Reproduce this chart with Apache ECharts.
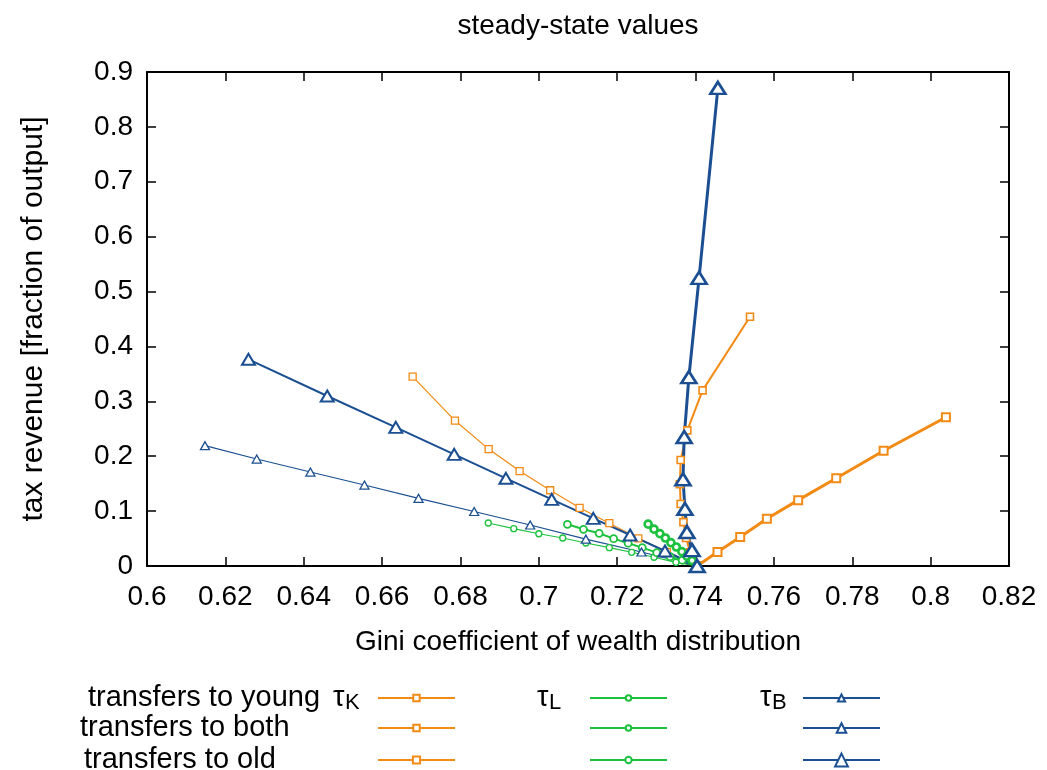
<!DOCTYPE html>
<html>
<head>
<meta charset="utf-8">
<script src="https://cdn.jsdelivr.net/npm/echarts@6/dist/echarts.min.js"></script>
<style>
  html, body { margin: 0; padding: 0; background: #fff; }
  #chart { width: 1047px; height: 770px; }
</style>
</head>
<body>
<div id="chart"></div>
<script>
// Steady-state tax revenue vs. wealth Gini for three tax instruments
// (capital tax tauK, labour tax tauL, bequest tax tauB) under three transfer schemes.
// Each point is [Gini coefficient, tax revenue as fraction of output].

const xTicks = { min: 0.6, max: 0.82, step: 0.02 };
const yTicks = { min: 0, max: 0.9, step: 0.1 };

const tauK_young = [[0.6678,0.345],[0.6786,0.265],[0.6872,0.213],[0.6951,0.173],[0.7029,0.138],[0.7104,0.106],[0.7180,0.078],[0.7254,0.0505],[0.7327,0.0255],[0.7404,0]];
const tauK_both  = [[0.7539,0.454],[0.7418,0.320],[0.7379,0.247],[0.7362,0.193],[0.7360,0.149],[0.7362,0.113],[0.7369,0.080],[0.7376,0.051],[0.7386,0.025],[0.7404,0]];
const tauK_old   = [[0.7404,0],[0.7456,0.0255],[0.7514,0.053],[0.7582,0.086],[0.7662,0.120],[0.7759,0.160],[0.7880,0.210],[0.8039,0.271]];

const tauL_young = [[0.6871,0.0783],[0.6936,0.068],[0.7000,0.0588],[0.7061,0.051],[0.7120,0.0419],[0.7180,0.0334],[0.7237,0.025],[0.7294,0.0159],[0.7350,0.0067],[0.7404,0]];
const tauL_both  = [[0.7073,0.076],[0.7114,0.0669],[0.7154,0.0596],[0.7191,0.0498],[0.7228,0.0415],[0.7264,0.0334],[0.7301,0.0243],[0.7335,0.017],[0.7366,0.0105],[0.7404,0]];
const tauL_old   = [[0.7279,0.0762],[0.7294,0.0671],[0.7309,0.0589],[0.7323,0.051],[0.7337,0.0425],[0.7351,0.0346],[0.7365,0.0262],[0.7378,0.0179],[0.7391,0.010],[0.7404,0]];

const tauB_young = [[0.6148,0.2192],[0.6280,0.1949],[0.6417,0.1712],[0.6555,0.1475],[0.6693,0.1233],[0.6835,0.0993],[0.6978,0.0747],[0.7120,0.049],[0.7262,0.0255],[0.7404,0]];
const tauB_both  = [[0.6259,0.3766],[0.6460,0.3097],[0.6635,0.2526],[0.6784,0.2035],[0.6916,0.1598],[0.7033,0.1215],[0.7139,0.0869],[0.7233,0.0565],[0.7322,0.0273],[0.7404,0]];
const tauB_old   = [[0.7404,0],[0.7391,0.029],[0.7378,0.062],[0.7373,0.104],[0.7368,0.158],[0.7371,0.235],[0.7383,0.344],[0.7409,0.525],[0.7457,0.871]];

const rowLabels = ['transfers to young', 'transfers to both', 'transfers to old'];
const taxLabels = ['K', 'L', 'B'];

const ORANGE = '#f28a14';
const GREEN = '#1cc23e';
const BLUE = '#1b4f91';
const FONT = '"Liberation Sans", Arial, sans-serif';
const FS = 28;
const KFS = 29;
const SUB_FS = 22;

function lineSeries(name, data, color, symbol, size, lineWidth, borderWidth) {
  return {
    name: name,
    type: 'line',
    data: data,
    symbol: symbol,
    symbolSize: size,
    showAllSymbol: true,
    lineStyle: { color: color, width: lineWidth },
    itemStyle: { color: '#fff', borderColor: color, borderWidth: borderWidth },
    emphasis: { disabled: true },
    clip: false
  };
}

const series = [
  lineSeries('K young', tauK_young, ORANGE, 'rect', 7, 1.2, 1.3),
  lineSeries('K both',  tauK_both,  ORANGE, 'rect', 7, 2, 1.6),
  lineSeries('K old',   tauK_old,   ORANGE, 'rect', 8, 3, 2),
  lineSeries('L young', tauL_young, GREEN, 'circle', 6, 1.2, 1.3),
  lineSeries('L both',  tauL_both,  GREEN, 'circle', 7, 2, 1.8),
  lineSeries('L old',   tauL_old,   GREEN, 'circle', 7, 3, 2.6),
  lineSeries('B young', tauB_young, BLUE, 'triangle', [9, 8], 1.2, 1.3),
  lineSeries('B both',  tauB_both,  BLUE, 'triangle', [13, 11], 2, 2),
  lineSeries('B old',   tauB_old,   BLUE, 'triangle', [15, 12], 3, 2.6)
];

const fmt = v => String(+(+v).toFixed(2));

const tick = { show: true, inside: true, length: 9, lineStyle: { color: '#000', width: 1.5 } };
const line = { show: true, onZero: false, lineStyle: { color: '#000', width: 2 } };

// key layout: one entry per series, a fixed-width text block followed by the line sample
const rowTop = [682, 713, 745];
const iconLeft = [378, 590, 803];
const rowTextLeft = [88, 80, 84];     // first column: row titles
const tauLeft = [333, 537, 760];      // tau labels on the first row
const iconHeight = {
  K: [8, 8, 9],
  L: [7, 7, 8],
  B: [9, 12, 16]
};
const GAP = 5;     // text-to-sample gap used by the legend
const TAU_W = 12;  // width reserved for the tau glyph
const subWidth = { K: 14.7, L: 12.2, B: 14.7 };  // subscript glyph widths at SUB_FS

function keyEntry(col, row) {
  const tax = taxLabels[col];
  const name = tax + ' ' + ['young', 'both', 'old'][row];
  const base = { fontFamily: FONT, color: '#000', lineHeight: 30, align: 'left' };
  const rich = {
    t: Object.assign({}, base, { fontSize: KFS, width: TAU_W }),
    s: Object.assign({}, base, { fontSize: SUB_FS, padding: [10, 0, 0, 0] })
  };
  const fill = iconLeft[col] - GAP - tauLeft[col] - TAU_W - subWidth[tax];
  rich.f = Object.assign({}, base, { fontSize: KFS, width: fill });
  const tauText = '{t|τ}{s|' + tax + '}{f| }';
  let left, label;
  if (col === 0) {
    left = rowTextLeft[row];
    if (row === 0) {
      rich.n = Object.assign({}, base, { fontSize: KFS, width: tauLeft[0] - left });
      label = '{n|' + rowLabels[0] + '}' + tauText;
    } else {
      rich.n = Object.assign({}, base, { fontSize: KFS, width: iconLeft[0] - GAP - left });
      label = '{n|' + rowLabels[row] + '}';
    }
  } else {
    left = tauLeft[col];
    rich.e = Object.assign({}, base, { fontSize: KFS, width: iconLeft[col] - GAP - left });
    label = row === 0 ? tauText : '{e| }';
  }
  return {
    orient: 'vertical',
    left: left,
    top: rowTop[row],
    height: 40,
    align: 'right',
    itemWidth: 77,
    itemHeight: iconHeight[tax][row],
    itemGap: 0,
    selectedMode: false,
    padding: 0,
    data: [name],
    formatter: () => label,
    textStyle: { fontFamily: FONT, fontSize: KFS, color: '#000', lineHeight: 30, rich: rich }
  };
}

const legends = [];
for (let c = 0; c < 3; c++) for (let r = 0; r < 3; r++) legends.push(keyEntry(c, r));

const option = {
  animation: false,
  backgroundColor: '#fff',
  title: {
    text: 'steady-state values',
    left: 578, top: 12, textAlign: 'center', padding: 0,
    textStyle: { fontFamily: FONT, fontSize: FS, fontWeight: 'normal', color: '#000' }
  },
  grid: { left: 147, right: 38, top: 72, bottom: 204, containLabel: false },
  xAxis: [{
    type: 'value', min: xTicks.min, max: xTicks.max, interval: xTicks.step,
    axisLine: line, axisTick: tick, splitLine: { show: false },
    axisLabel: { formatter: fmt, fontFamily: FONT, fontSize: FS, color: '#000', margin: 17 },
    name: 'Gini coefficient of wealth distribution', nameLocation: 'middle', nameGap: 62,
    nameTextStyle: { fontFamily: FONT, fontSize: FS, color: '#000' }
  }, {
    type: 'value', position: 'top', min: xTicks.min, max: xTicks.max, interval: xTicks.step,
    axisLine: line, axisTick: tick, axisLabel: { show: false }, splitLine: { show: false }
  }],
  yAxis: [{
    type: 'value', min: yTicks.min, max: yTicks.max, interval: yTicks.step,
    axisLine: line, axisTick: tick, splitLine: { show: false },
    axisLabel: { formatter: fmt, fontFamily: FONT, fontSize: FS, color: '#000', margin: 14 },
    name: 'tax revenue [fraction of output]', nameLocation: 'middle', nameGap: 98,
    nameTextStyle: { fontFamily: FONT, fontSize: 30, color: '#000' }
  }, {
    type: 'value', position: 'right', min: yTicks.min, max: yTicks.max, interval: yTicks.step,
    axisLine: line, axisTick: tick, axisLabel: { show: false }, splitLine: { show: false }
  }],
  legend: legends,
  series: series
};

const chart = echarts.init(document.getElementById('chart'), null, { renderer: 'canvas' });
chart.setOption(option);
</script>
</body>
</html>
